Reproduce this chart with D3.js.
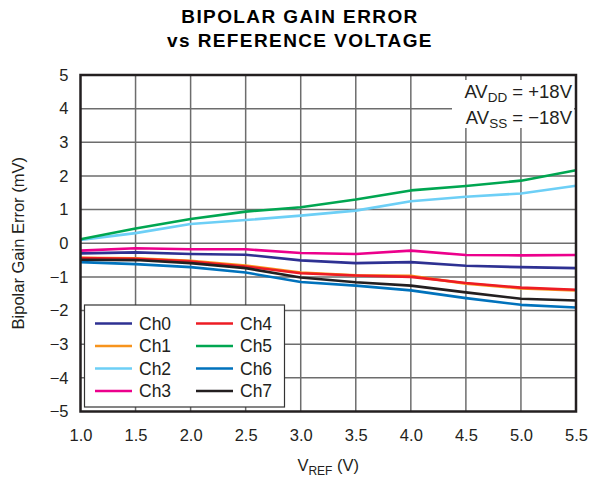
<!DOCTYPE html>
<html>
<head>
<meta charset="utf-8">
<script src="https://cdn.jsdelivr.net/npm/d3@7/dist/d3.min.js"></script>
<style>
  html, body { margin: 0; padding: 0; background: #fff; }
  svg { display: block; font-family: "Liberation Sans", Arial, sans-serif; }
</style>
</head>
<body>
<svg id="chart" width="590" height="479"></svg>
<script>
const vref = [1.0, 1.5, 2.0, 2.5, 3.0, 3.5, 4.0, 4.5, 5.0, 5.5];
const ch0 = [-0.30, -0.27, -0.32, -0.34, -0.51, -0.59, -0.56, -0.67, -0.71, -0.74];
const ch1 = [-0.43, -0.45, -0.52, -0.66, -0.87, -0.95, -0.97, -1.20, -1.34, -1.40];
const ch2 = [0.10, 0.30, 0.57, 0.69, 0.82, 0.97, 1.25, 1.38, 1.48, 1.71];
const ch3 = [-0.22, -0.15, -0.18, -0.18, -0.29, -0.32, -0.22, -0.35, -0.36, -0.35];
const ch4 = [-0.44, -0.46, -0.54, -0.69, -0.89, -0.96, -1.00, -1.18, -1.32, -1.38];
const ch5 = [0.12, 0.44, 0.72, 0.94, 1.07, 1.30, 1.57, 1.70, 1.86, 2.17];
const ch6 = [-0.56, -0.62, -0.71, -0.87, -1.15, -1.26, -1.40, -1.63, -1.83, -1.91];
const ch7 = [-0.49, -0.50, -0.59, -0.74, -1.02, -1.16, -1.26, -1.46, -1.65, -1.70];
const seriesNames = ["Ch0", "Ch1", "Ch2", "Ch3", "Ch4", "Ch5", "Ch6", "Ch7"];
const seriesColors = ["#2e3192", "#f7941d", "#6dcff6", "#ec008c", "#ed1c24", "#00a651", "#0072bc", "#231f20"];
const xTicks = [1.0, 1.5, 2.0, 2.5, 3.0, 3.5, 4.0, 4.5, 5.0, 5.5];
const yTicks = [-5, -4, -3, -2, -1, 0, 1, 2, 3, 4, 5];

const seriesValues = [ch0, ch1, ch2, ch3, ch4, ch5, ch6, ch7];

const svg = d3.select("#chart");
const L = 80.5, R = 576, T = 75, B = 411.5;
const x = d3.scaleLinear().domain([1.0, 5.5]).range([L, R]);
const y = d3.scaleLinear().domain([-5, 5]).range([B, T]);

// title
const title = svg.append("g").attr("font-weight", "bold").attr("font-size", 19)
  .attr("letter-spacing", 1.4).attr("text-anchor", "middle").attr("fill", "#000");
title.append("text").attr("x", 300).attr("y", 23).text("BIPOLAR GAIN ERROR");
title.append("text").attr("x", 300).attr("y", 47).text("vs REFERENCE VOLTAGE");

// grid
const grid = svg.append("g").attr("stroke", "#6d6d6d").attr("stroke-width", 1.5);
grid.selectAll("line.v").data(xTicks.slice(1, -1)).enter().append("line")
  .attr("x1", d => x(d)).attr("x2", d => x(d)).attr("y1", T).attr("y2", B);
grid.selectAll("line.h").data(yTicks.slice(1, -1)).enter().append("line")
  .attr("x1", L).attr("x2", R).attr("y1", d => y(d)).attr("y2", d => y(d));

// annotation background
svg.append("rect").attr("x", 452).attr("y", 80).attr("width", 122).attr("height", 48).attr("fill", "#fff");
const ann = svg.append("g").attr("font-size", 18.5).attr("text-anchor", "end").attr("fill", "#231f20");
const a1 = ann.append("text").attr("x", 572).attr("y", 98);
a1.append("tspan").text("AV");
a1.append("tspan").attr("font-size", 13.5).attr("dy", 4).text("DD");
a1.append("tspan").attr("dy", -4).text(" = +18V");
const a2 = ann.append("text").attr("x", 572).attr("y", 124);
a2.append("tspan").text("AV");
a2.append("tspan").attr("font-size", 13.5).attr("dy", 4).text("SS");
a2.append("tspan").attr("dy", -4).text(" = \u221218V");

// lines
const line = d3.line().x((d, i) => x(vref[i])).y(d => y(d));
svg.append("g").selectAll("path").data(seriesValues).enter().append("path")
  .attr("d", d => line(d)).attr("fill", "none")
  .attr("stroke", (d, i) => seriesColors[i]).attr("stroke-width", 2.6)
  .attr("stroke-linejoin", "round");

// legend
const lg = svg.append("g");
lg.append("rect").attr("x", 84.5).attr("y", 305).attr("width", 200).attr("height", 102)
  .attr("fill", "#fff").attr("stroke", "#333").attr("stroke-width", 1.2);
const rowsY = [323.5, 346, 368.5, 391];
seriesNames.forEach((name, i) => {
  const col = Math.floor(i / 4), row = i % 4;
  const lx = col === 0 ? 95 : 196;
  lg.append("line").attr("x1", lx).attr("x2", lx + 37).attr("y1", rowsY[row]).attr("y2", rowsY[row])
    .attr("stroke", seriesColors[i]).attr("stroke-width", 2.6);
  lg.append("text").attr("x", lx + 44).attr("y", rowsY[row]).attr("dy", "0.35em")
    .attr("font-size", 17.5).attr("fill", "#231f20").text(name);
});

// frame
svg.append("rect").attr("x", L).attr("y", T).attr("width", R - L).attr("height", B - T)
  .attr("fill", "none").attr("stroke", "#231f20").attr("stroke-width", 2.5);

// axes
const xAxis = svg.append("g").attr("transform", `translate(0,${B})`)
  .call(d3.axisBottom(x).tickValues(xTicks).tickFormat(d3.format(".1f")).tickSize(0).tickPadding(18));
xAxis.select(".domain").remove();
xAxis.selectAll("text").attr("font-size", 16.5).attr("fill", "#231f20").attr("font-family", "Liberation Sans, Arial, sans-serif");

const yAxis = svg.append("g").attr("transform", `translate(${L},0)`)
  .call(d3.axisLeft(y).tickValues(yTicks).tickFormat(d => d < 0 ? "\u2212" + Math.abs(d) : d).tickSize(0).tickPadding(12));
yAxis.select(".domain").remove();
yAxis.selectAll("text").attr("font-size", 16.5).attr("fill", "#231f20").attr("font-family", "Liberation Sans, Arial, sans-serif");

// axis titles
const xt = svg.append("text").attr("x", (L + R) / 2).attr("y", 471).attr("text-anchor", "middle")
  .attr("font-size", 16.5).attr("fill", "#231f20");
xt.append("tspan").text("V");
xt.append("tspan").attr("font-size", 12).attr("dy", 4).text("REF");
xt.append("tspan").attr("dy", -4).text(" (V)");

svg.append("text").attr("transform", `translate(24,${(T + B) / 2}) rotate(-90)`)
  .attr("text-anchor", "middle").attr("font-size", 16.5).attr("fill", "#231f20")
  .text("Bipolar Gain Error (mV)");
</script>
</body>
</html>
